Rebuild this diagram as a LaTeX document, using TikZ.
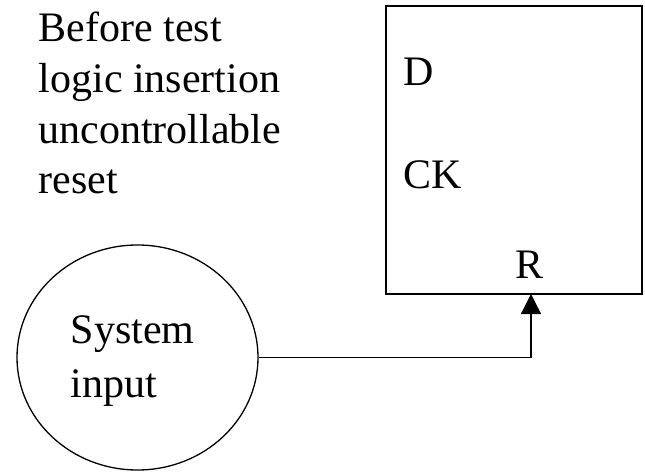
\documentclass[tikz,border=0pt]{standalone}
\usepackage{fontspec}
\setmainfont{Liberation Serif}
\usetikzlibrary{arrows.meta,shapes.geometric}
\begin{document}
\begin{tikzpicture}[x=1pt,y=-1pt,
  line width=1.3pt,
  lbl/.style={inner sep=0pt,anchor=base west,font=\fontsize{42}{50.7}\selectfont},
  block/.style={draw,rectangle,inner sep=0pt},
  srcnode/.style={draw,ellipse,inner sep=0pt},
  wire/.style={-{Triangle[width=20pt,length=20pt]}}]
\useasboundingbox (0,0) rectangle (645,473);
% caption (anchored on the baseline of its last line)
\node[lbl,align=left] (cap) at (38,194)
  {Before test\\logic insertion\\uncontrollable\\reset};
% flip-flop
\node[block,minimum width=256pt,minimum height=288pt] (ff) at (514,150) {};
\node[lbl] (d) at (403,86) {D};
\node[lbl] (ck) at (403,189) {CK};
\node[lbl] (r) at (515,278) {R};
% system input
\node[srcnode,minimum width=241pt,minimum height=225pt] (sys) at (137.5,357.5) {};
\node[lbl,align=left,font=\fontsize{42}{54}\selectfont] (systxt) at (70,397) {System\\input};
% reset pin
\coordinate (rin) at (531,294);
\draw[wire] (sys.east) -| (rin);
\end{tikzpicture}
\end{document}
